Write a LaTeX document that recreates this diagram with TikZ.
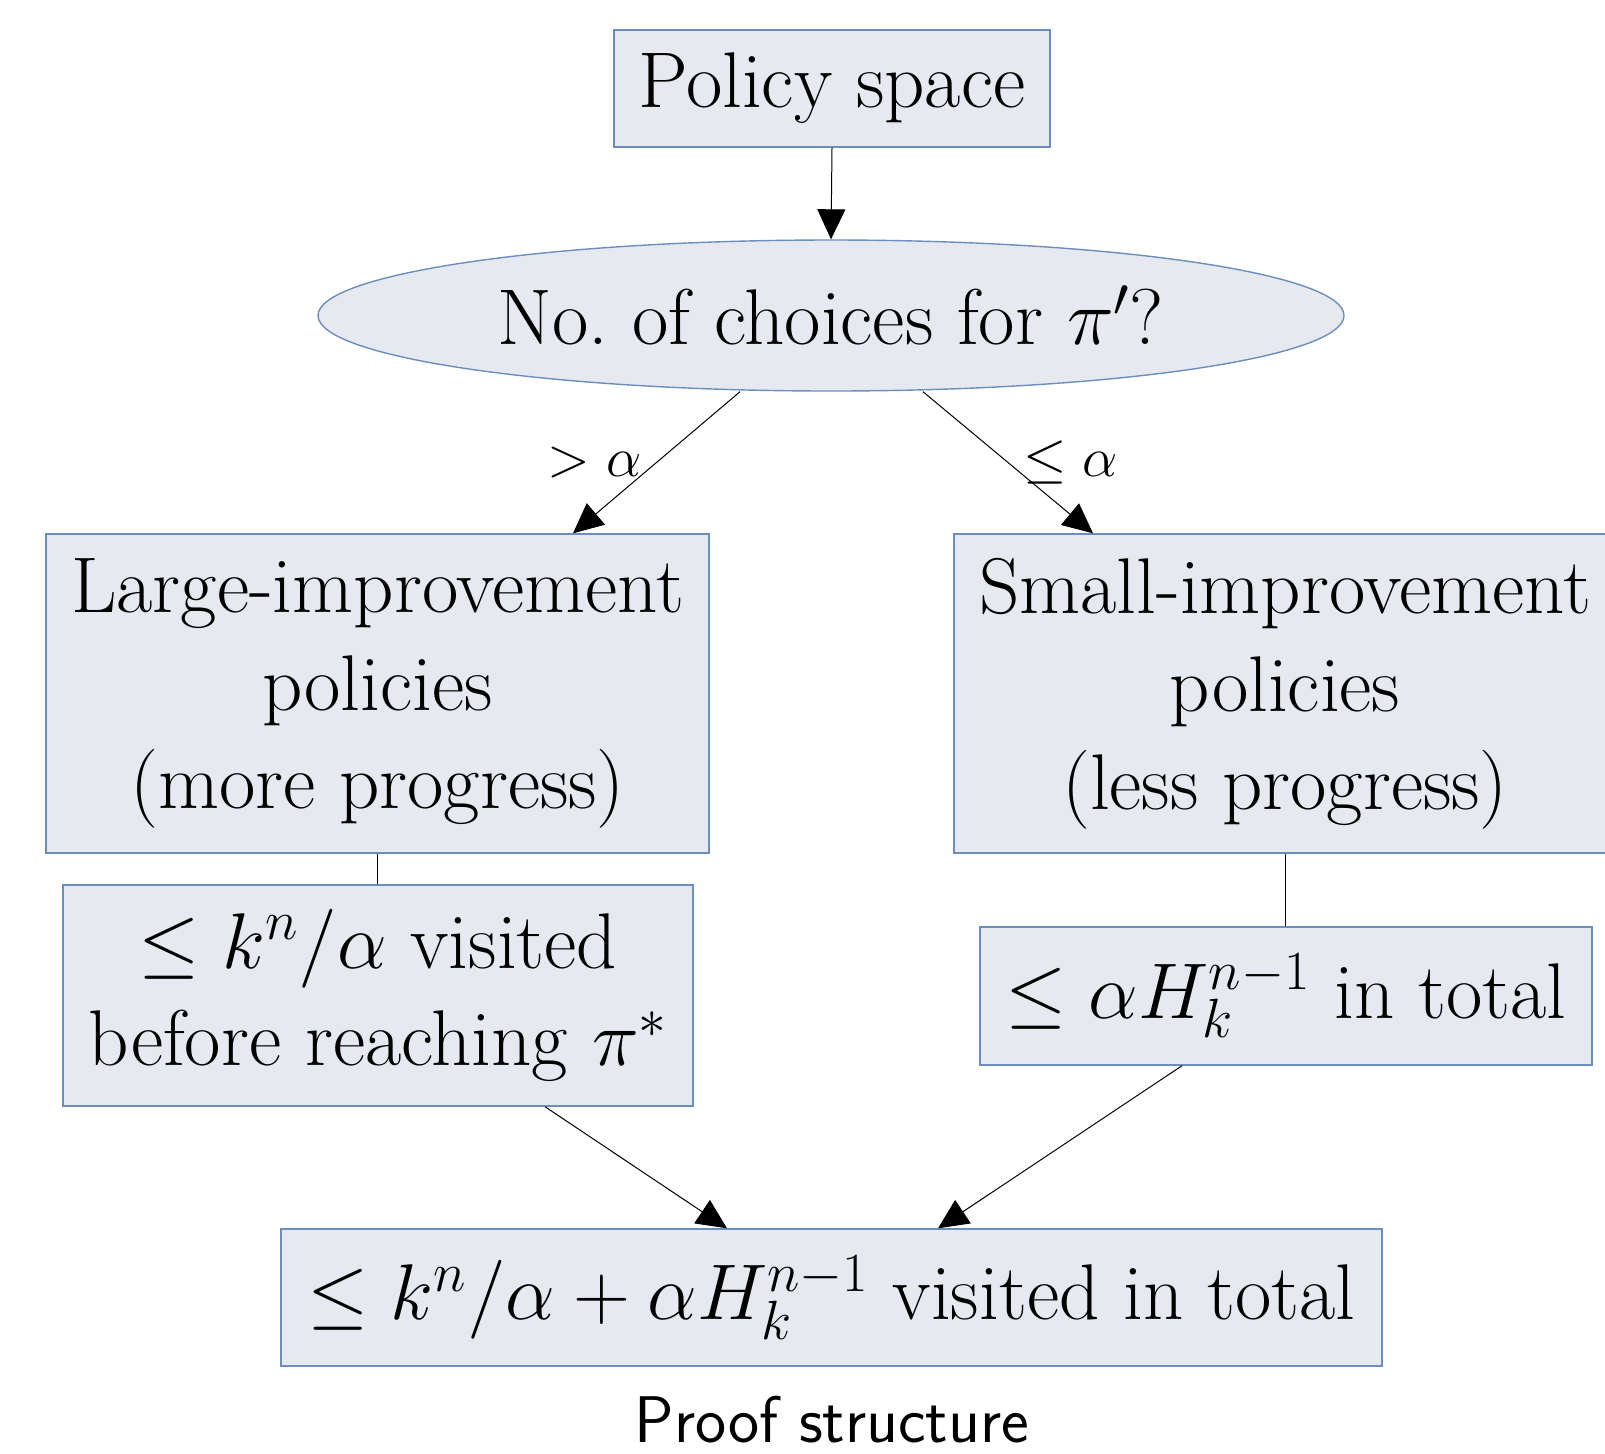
\RequirePackage{fix-cm}
\documentclass[tikz,border=0pt]{standalone}
\usetikzlibrary{arrows.meta,shapes.geometric}
\definecolor{boxfill}{HTML}{E6EAF0}
\definecolor{boxdraw}{HTML}{6C8EBF}
\begin{document}
\begin{tikzpicture}[x=0.5pt,y=-0.5pt,
  box/.style={draw=boxdraw,fill=boxfill,line width=0.7pt,inner sep=0pt,align=center,
    font=\fontsize{39.5}{48.9}\selectfont},
  conn/.style={line width=0.5pt,-{Triangle[length=15pt,width=14pt]}},
  plain/.style={line width=0.5pt},
  lbl/.style={font=\fontsize{28}{32}\selectfont}]
\useasboundingbox (0,0) rectangle (1605,1453);
\node[box,minimum width=218pt,minimum height=58.5pt] (ps) at (832,88.5) {Policy space};
\node[box,ellipse,minimum width=513pt,minimum height=75.5pt] (ell) at (831,315.5) {No.\ of choices for $\pi'$?};
\node[box,minimum width=331.5pt,minimum height=159.5pt] (large) at (377.5,693.5) {Large-improvement\\policies\\(more progress)};
\node[box,minimum width=331pt,minimum height=159.5pt] (small) at (1285,693.5) {Small-improvement\\policies\\(less progress)};
\node[box,minimum width=315pt,minimum height=110.5pt] (kn) at (378,995.5) {$\le k^n/\alpha$ visited\\before reaching $\pi^*$};
\node[box,minimum width=306pt,minimum height=69pt] (ah) at (1286,996) {$\le \alpha H_k^{n-1}$ in total};
\node[box,minimum width=550.5pt,minimum height=68.5pt] (bot) at (831.5,1297.5) {$\le k^n/\alpha + \alpha H_k^{n-1}$ visited in total};
\node[font=\sffamily\fontsize{33}{38}\selectfont] (cap) at (832,1420) {Proof structure};

\draw[conn] (ps.south) -- (ell.north);
\draw[conn] ([xshift=-45.5pt]ell.south) -- node[lbl,pos=0.5,left=4pt] {$>\alpha$} ([xshift=97.75pt]large.north);
\draw[conn] ([xshift=46pt]ell.south) -- node[lbl,pos=0.5,right=4pt] {$\le\alpha$} ([xshift=-96pt]small.north);
\draw[plain] (large.south) -- (large.south |- kn.north);
\draw[plain] (small.south) -- (small.south |- ah.north);
\draw[conn] ([xshift=83.5pt]kn.south) -- ([xshift=-52.25pt]bot.north);
\draw[conn] ([xshift=-52pt]ah.south) -- ([xshift=53.25pt]bot.north);
\end{tikzpicture}
\end{document}
